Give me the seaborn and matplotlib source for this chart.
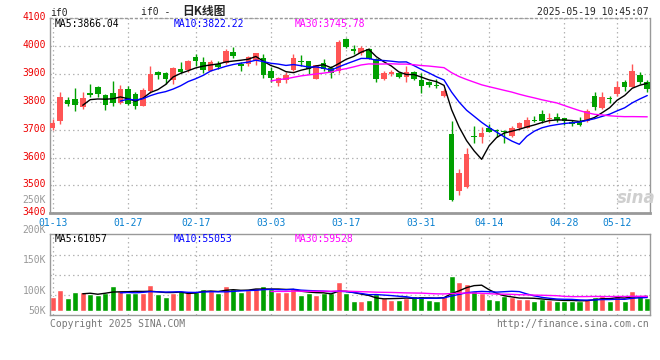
import numpy as np
import pandas as pd
import matplotlib
matplotlib.use("Agg")
import matplotlib.pyplot as plt
import matplotlib.transforms as mtrans
import seaborn as sns

# trading days shown on the chart (MM-DD)
dates = [
    '01-13', '01-14', '01-15', '01-16', '01-17', '01-20', '01-21', '01-22', '01-23', '01-24',
    '01-27', '02-05', '02-06', '02-07', '02-10', '02-11', '02-12', '02-13', '02-14', '02-17',
    '02-18', '02-19', '02-20', '02-21', '02-24', '02-25', '02-26', '02-27', '02-28', '03-03',
    '03-04', '03-05', '03-06', '03-07', '03-10', '03-11', '03-12', '03-13', '03-14', '03-17',
    '03-18', '03-19', '03-20', '03-21', '03-24', '03-25', '03-26', '03-27', '03-28', '03-31',
    '04-01', '04-02', '04-03', '04-07', '04-08', '04-09', '04-10', '04-11', '04-14', '04-15',
    '04-16', '04-17', '04-18', '04-21', '04-22', '04-23', '04-24', '04-25', '04-28', '04-29',
    '04-30', '05-06', '05-07', '05-08', '05-09', '05-12', '05-13', '05-14', '05-15', '05-16',
]

opens = [3706, 3731, 3807, 3810, 3783, 3832, 3853, 3824, 3831, 3797,
         3846, 3828, 3786, 3839, 3906, 3904, 3880, 3919, 3913, 3961,
         3943, 3912, 3935, 3938, 3978, 3935, 3935, 3950, 3957, 3910,
         3869, 3878, 3916, 3947, 3945, 3882, 3938, 3922, 3910, 4026,
         3989, 3975, 3990, 3953, 3881, 3901, 3905, 3890, 3907, 3878,
         3870, 3860, 3822, 3685, 3481, 3496, 3677, 3675, 3707, 3698,
         3697, 3679, 3705, 3707, 3734, 3755, 3740, 3746, 3741, 3729,
         3730, 3733, 3820, 3777, 3815, 3827, 3872, 3852, 3896, 3872]
highs = [3737, 3834, 3818, 3851, 3834, 3863, 3858, 3827, 3874, 3861,
         3857, 3834, 3851, 3929, 3911, 3909, 3926, 3944, 3952, 3971,
         3960, 3950, 3947, 3990, 3997, 3944, 3966, 3977, 3972, 3926,
         3889, 3906, 3972, 3968, 3948, 3934, 3954, 3929, 4022, 4029,
         4004, 4001, 3992, 3956, 3911, 3916, 3908, 3929, 3910, 3903,
         3874, 3881, 3845, 3731, 3558, 3633, 3713, 3711, 3720, 3703,
         3699, 3713, 3729, 3746, 3749, 3771, 3759, 3761, 3743, 3735,
         3747, 3774, 3837, 3837, 3820, 3875, 3878, 3936, 3908, 3878]
lows = [3699, 3719, 3786, 3769, 3776, 3816, 3816, 3772, 3785, 3791,
        3789, 3776, 3785, 3831, 3883, 3865, 3864, 3904, 3909, 3928,
        3905, 3910, 3919, 3935, 3956, 3912, 3930, 3932, 3887, 3870,
        3858, 3869, 3912, 3929, 3900, 3882, 3912, 3887, 3905, 3993,
        3972, 3968, 3954, 3873, 3879, 3893, 3887, 3871, 3880, 3833,
        3852, 3849, 3818, 3445, 3466, 3490, 3654, 3651, 3691, 3675,
        3652, 3674, 3699, 3705, 3729, 3725, 3723, 3729, 3717, 3715,
        3713, 3729, 3771, 3774, 3795, 3822, 3840, 3852, 3863, 3837]
closes = [3725, 3818, 3794, 3789, 3813, 3826, 3830, 3790, 3797, 3846,
          3794, 3786, 3843, 3900, 3898, 3883, 3922, 3908, 3948, 3948,
          3916, 3943, 3926, 3983, 3965, 3930, 3962, 3975, 3898, 3887,
          3886, 3896, 3957, 3942, 3918, 3932, 3919, 3902, 4015, 3996,
          3984, 3995, 3954, 3882, 3905, 3908, 3889, 3907, 3882, 3858,
          3859, 3857, 3840, 3448, 3546, 3613, 3673, 3689, 3693, 3694,
          3691, 3707, 3723, 3735, 3730, 3733, 3743, 3735, 3733, 3721,
          3716, 3767, 3783, 3818, 3810, 3852, 3852, 3912, 3872, 3845]
volumes = [58800, 86800, 53200, 78400, 78400, 70000, 65800, 74200, 103600, 82600,
           72800, 72800, 72800, 107800, 70000, 58800, 72800, 82600, 78400, 78400,
           91000, 82600, 72800, 103600, 91000, 78400, 86800, 95200, 103600, 91000,
           78400, 78400, 95200, 65800, 74200, 65800, 74200, 72800, 121800, 72800,
           40600, 40600, 44800, 70000, 53200, 44800, 44800, 53200, 63000, 63000,
           44800, 40600, 63000, 147000, 121800, 112000, 82600, 72800, 50400, 44800,
           63000, 58800, 49000, 49000, 40600, 49000, 44800, 40600, 40600, 40600,
           40600, 49000, 58800, 63000, 40600, 63000, 40600, 82600, 63000, 51800]

tick_dates = ['01-13', '01-27', '02-17', '03-03', '03-17', '03-31', '04-14', '04-28', '05-12']
price_ticks = [3400, 3500, 3600, 3700, 3800, 3900, 4000, 4100]
vol_labels = ['250K', '200K', '150K', '100K', '50K']
ma_windows = [5, 10, 30]
price_ma_text = ['MA5:3866.04', 'MA10:3822.22', 'MA30:3745.78']
vol_ma_text = ['MA5:61057', 'MA10:55053', 'MA30:59528']

RED = '#ff5555'
GREEN = '#00a000'
MA_COLORS = ['black', '#0000ff', '#ff00ff']
GRID = '#b4b4b4'
BORDER = '#999999'
MONO = 'DejaVu Sans Mono'

sns.set_style('white')
plt.rcParams['font.family'] = [MONO, 'Noto Sans CJK SC']

df = pd.DataFrame({'date': dates, 'open': opens, 'high': highs, 'low': lows,
                   'close': closes, 'volume': volumes})
df['x'] = np.arange(len(df))
df['up'] = df['close'] >= df['open']
colors = np.where(df['up'], RED, GREEN)
for w in ma_windows:
    df[f'ma{w}'] = df['close'].rolling(w).mean()
    df[f'vma{w}'] = df['volume'].rolling(w).mean()

W, H = 660, 360
fig = plt.figure(figsize=(W / 100, H / 100), dpi=100)


def px(x, y):
    return x / W, 1 - y / H


def make_axes(left, top, right, bottom):
    return fig.add_axes([left / W, 1 - bottom / H, (right - left) / W, (bottom - top) / H])


ax = make_axes(50, 18.3, 649.5, 213.3)
axv = make_axes(50, 234.3, 649.5, 315.3)
xlim = (-0.35, 79.3)
tick_pos = [dates.index(d) for d in tick_dates]

# ---- price panel
ax.vlines(df['x'], df['low'], df['high'], colors=colors, lw=1, zorder=2)
body_bottom = df[['open', 'close']].min(axis=1)
body_h = (df['close'] - df['open']).abs().clip(lower=3)
ax.bar(df['x'], body_h, bottom=body_bottom, width=0.74, color=colors, linewidth=0, zorder=3)
for w, c in zip(ma_windows, MA_COLORS):
    sns.lineplot(data=df, x='x', y=f'ma{w}', color=c, lw=1, ax=ax, zorder=4)

ax.set_xlim(*xlim)
ax.set_ylim(price_ticks[0], price_ticks[-1])
ax.set_yticks(price_ticks)
ax.set_yticklabels([str(t) for t in price_ticks], color='#ee0000', fontsize=7)
ax.set_xticks(tick_pos)
ax.set_xticklabels(tick_dates, color='#0a80d0', fontsize=7)
ax.tick_params(length=0, pad=3.5)
ax.tick_params(axis='y', pad=3)
for lab in ax.get_yticklabels():
    lab.set_va('baseline')
    lab.set_transform(lab.get_transform() + mtrans.ScaledTranslation(0, -0.02, fig.dpi_scale_trans))
ax.set_xlabel('')
ax.set_ylabel('')
ax.grid(True, color=GRID, ls=(0, (1.2, 2.4)), lw=0.9)

# ---- volume panel
sns.barplot(data=df, x='x', y='volume', hue='up', palette={True: RED, False: GREEN},
            dodge=False, width=0.8, saturation=1, legend=False, ax=axv, zorder=2)
for w, c in zip(ma_windows, MA_COLORS):
    sns.lineplot(data=df, x='x', y=f'vma{w}', color=c, lw=1, ax=axv, zorder=4)
k = 4200  # volume per pixel
axv.set_ylim(-4.6 * k, 76.4 * k)
axv.set_yticks([(310.7 - y) * k for y in (295.3, 275.3, 255.3)])
axv.set_yticklabels([])
axv.set_xlim(*xlim)
axv.set_xticks(tick_pos)
axv.set_xticklabels([])
axv.tick_params(length=0)
axv.set_xlabel('')
axv.set_ylabel('')
axv.grid(True, color=GRID, ls=(0, (1.2, 2.4)), lw=0.9)

for a in (ax, axv):
    a.set_axisbelow(True)
    for s in a.spines.values():
        s.set_color(BORDER)
        s.set_linewidth(1)
ax.spines['bottom'].set_linewidth(2)
ax.spines['top'].set_linestyle((0, (1.2, 2.4)))

# ---- texts
fig.text(*px(50, 13), 'if0', fontsize=7, va='center', ha='left')
fig.text(*px(141, 12), 'if0 - ', fontsize=7, va='center', ha='left')
fig.text(*px(182, 12), '日K线图', fontsize=8.5, fontweight='bold', va='center', ha='left',
         family=['Noto Sans CJK SC', MONO])
fig.text(*px(649, 12), '2025-05-19 10:45:07', fontsize=7, va='center', ha='right')
for xp, t, c in zip((55, 174, 295), price_ma_text, MA_COLORS):
    fig.text(*px(xp, 24), t, fontsize=7, va='center', ha='left', color=c)
for xp, t, c in zip((55, 174, 295), vol_ma_text, MA_COLORS):
    fig.text(*px(xp, 238.5), t, fontsize=7, va='center', ha='left', color=c)
for yp, t in zip((200, 230.5, 260, 290.5, 311), vol_labels):
    fig.text(*px(46, yp), t, fontsize=7, va='center', ha='right', color='#999999')
fig.text(*px(50, 324), 'Copyright 2025 SINA.COM', fontsize=7, va='center', ha='left', color='#777777')
fig.text(*px(649, 324), 'http://finance.sina.com.cn', fontsize=7, va='center', ha='right', color='#777777')
fig.text(*px(636, 198), 'sina', fontsize=12, fontweight='bold', style='italic', va='center',
         ha='center', color='#cfcfcf', family='DejaVu Sans')

fig.savefig('out.png', dpi=100)
